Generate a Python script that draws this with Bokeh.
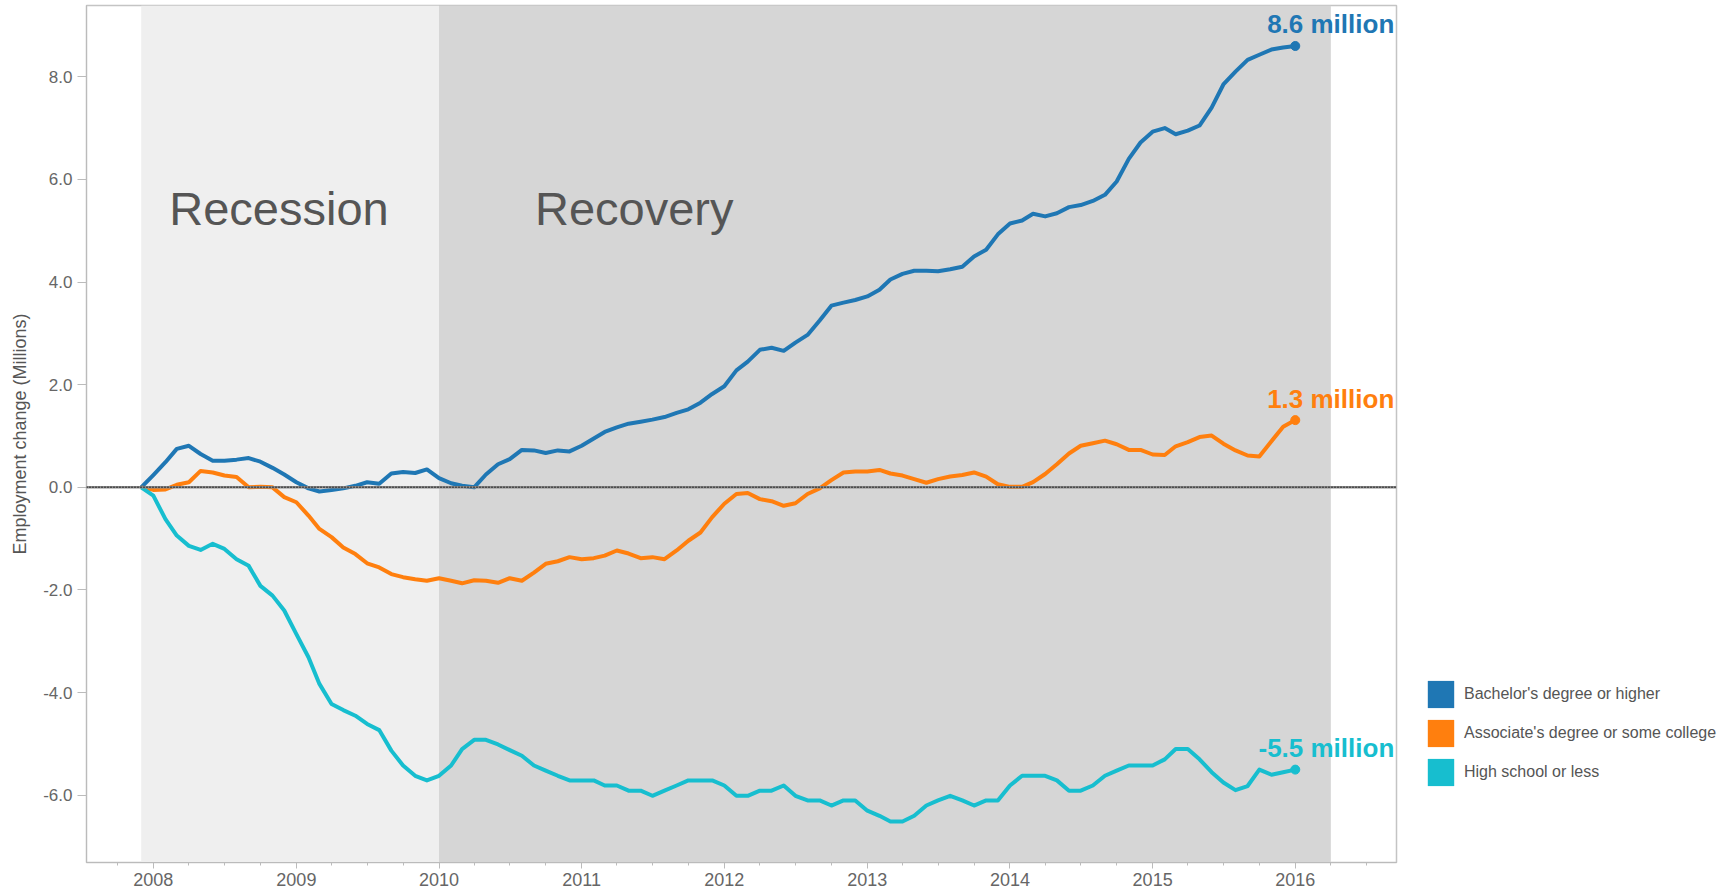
import pandas as pd
from bokeh.plotting import figure
from bokeh.layouts import row
from bokeh.models import (Range1d, FixedTicker, DatetimeTickFormatter, NumeralTickFormatter,
                          BoxAnnotation, Span, Legend, LegendItem, ColumnDataSource)
from bokeh.core.properties import value
from bokeh.embed import file_html
from bokeh.resources import INLINE

# ---------------- data ----------------
months = pd.date_range("2007-12-01", "2016-01-01", freq="MS")

bachelor = [
    0.0,
    0.24, 0.49, 0.75, 0.81, 0.65, 0.52, 0.52, 0.54, 0.57, 0.50, 0.38, 0.25,
    0.10, -0.02, -0.08, -0.05, -0.02, 0.03, 0.10, 0.07, 0.27, 0.30, 0.28, 0.35,
    0.18, 0.08, 0.03, 0.00, 0.25, 0.45, 0.55, 0.73, 0.72, 0.67, 0.72, 0.70,
    0.81, 0.95, 1.08, 1.17, 1.24, 1.28, 1.32, 1.37, 1.45, 1.52, 1.65, 1.82,
    1.97, 2.28, 2.45, 2.68, 2.72, 2.66, 2.82, 2.97, 3.25, 3.54, 3.60, 3.65,
    3.72, 3.85, 4.05, 4.16, 4.22, 4.22, 4.21, 4.25, 4.30, 4.50, 4.63, 4.93,
    5.14, 5.20, 5.33, 5.28, 5.34, 5.46, 5.50, 5.58, 5.70, 5.96, 6.40, 6.72,
    6.93, 7.00, 6.88, 6.95, 7.05, 7.40, 7.85, 8.10, 8.33, 8.43, 8.53, 8.57,
    8.60,
]
associate = [
    0.0,
    -0.05, -0.04, 0.05, 0.10, 0.32, 0.29, 0.23, 0.20, 0.00, 0.01, 0.00, -0.19,
    -0.29, -0.55, -0.81, -0.97, -1.17, -1.30, -1.48, -1.56, -1.69, -1.75, -1.79, -1.82,
    -1.77, -1.82, -1.87, -1.81, -1.82, -1.86, -1.77, -1.82, -1.66, -1.49, -1.44, -1.36,
    -1.40, -1.38, -1.33, -1.23, -1.29, -1.38, -1.36, -1.40, -1.23, -1.04, -0.88, -0.58,
    -0.32, -0.13, -0.11, -0.23, -0.27, -0.36, -0.31, -0.13, -0.02, 0.14, 0.29, 0.31,
    0.31, 0.34, 0.27, 0.23, 0.16, 0.09, 0.16, 0.21, 0.24, 0.29, 0.21, 0.06,
    0.01, 0.01, 0.10, 0.26, 0.45, 0.66, 0.81, 0.86, 0.91, 0.84, 0.73, 0.73,
    0.64, 0.63, 0.80, 0.88, 0.98, 1.01, 0.85, 0.72, 0.62, 0.60, 0.90, 1.18,
    1.31,
]
high_school = [
    0.0,
    -0.16, -0.62, -0.94, -1.14, -1.22, -1.10, -1.20, -1.40, -1.53, -1.92, -2.11, -2.40,
    -2.86, -3.31, -3.83, -4.22, -4.34, -4.45, -4.61, -4.73, -5.13, -5.42, -5.62, -5.71,
    -5.62, -5.42, -5.10, -4.92, -4.92, -5.01, -5.12, -5.23, -5.42, -5.52, -5.62, -5.71,
    -5.71, -5.71, -5.81, -5.81, -5.91, -5.91, -6.01, -5.91, -5.81, -5.71, -5.71, -5.71,
    -5.81, -6.01, -6.01, -5.91, -5.91, -5.81, -6.01, -6.10, -6.10, -6.20, -6.10, -6.10,
    -6.30, -6.40, -6.51, -6.51, -6.40, -6.20, -6.10, -6.01, -6.10, -6.20, -6.10, -6.10,
    -5.81, -5.62, -5.62, -5.62, -5.71, -5.91, -5.91, -5.81, -5.62, -5.52, -5.42, -5.42,
    -5.42, -5.30, -5.10, -5.10, -5.30, -5.55, -5.75, -5.90, -5.82, -5.50, -5.60, -5.55,
    -5.50,
]

series_names = ["Bachelor's degree or higher", "Associate's degree or some college", "High school or less"]
series_colors = ["#1f77b4", "#ff7f0e", "#17becf"]
end_labels = ["8.6 million", "1.3 million", "-5.5 million"]
tick_years = list(range(2008, 2017))
y_ticks = [-6, -4, -2, 0, 2, 4, 6, 8]
phase_names = ["Recession", "Recovery"]
phase_starts = ["2007-12-01", "2010-01-01"]
phase_ends = ["2010-01-01", "2016-04-01"]

FONT = "Liberation Sans"

# ---------------- main figure ----------------
p = figure(width=1398, height=892, x_axis_type="datetime", title=None,
           output_backend="svg", toolbar_location=None,
           x_range=Range1d(pd.Timestamp("2007-07-14"), pd.Timestamp("2016-09-16")),
           y_range=Range1d(-7.31, 9.389),
           min_border_left=86, min_border_right=2, min_border_top=5, min_border_bottom=30)
p.xgrid.visible = False
p.ygrid.visible = False
p.outline_line_color = "#c4c4c4"
p.outline_line_width = 1.5
p.background_fill_color = "white"
p.border_fill_color = "white"

# shaded phases
phase_fills = ["#efefef", "#d6d6d6"]
for s, e, c in zip(phase_starts, phase_ends, phase_fills):
    p.add_layout(BoxAnnotation(left=pd.Timestamp(s), right=pd.Timestamp(e), fill_color=c,
                               fill_alpha=1.0, line_alpha=0, level="underlay"))

phase_src = ColumnDataSource(dict(x=[pd.Timestamp(s) for s in phase_starts], y=[5.115, 5.115],
                                  text=phase_names, xo=[28, 96]))
p.text("x", "y", text="text", source=phase_src, x_offset="xo", y_offset=-16.5,
       text_font=value(FONT), text_font_size="47px", text_color="#555555",
       text_baseline="alphabetic", text_align="left")

# series lines
for vals, color in zip([bachelor, associate, high_school], series_colors):
    p.line(months, vals, line_color=color, line_width=4, line_join="round")

# zero line
p.add_layout(Span(location=0, dimension="width", line_color="#8a8a8a", line_width=2.5))
p.add_layout(Span(location=0, dimension="width", line_color="#111111", line_width=1.5, line_dash="1 2"))

# end points and labels
end_src = ColumnDataSource(dict(x=[months[-1]] * 3,
                                y=[bachelor[-1], associate[-1], high_school[-1]],
                                text=end_labels, color=series_colors))
p.scatter("x", "y", source=end_src, size=9, color="color")
p.text("x", "y", text="text", source=end_src, text_color="color", text_font=value(FONT),
       text_font_style="bold", text_font_size="26px", text_align="right",
       text_baseline="alphabetic", x_offset=99, y_offset=-21.5)

# axes
p.xaxis.ticker = FixedTicker(
    ticks=[pd.Timestamp(f"{y}-01-01").value / 1e6 for y in tick_years],
    minor_ticks=[d.value / 1e6 for d in pd.date_range("2007-07-01", "2016-07-01", freq="QS")])
p.xaxis.formatter = DatetimeTickFormatter(years="%Y", months="%Y", days="%Y", hours="%Y",
                                          minutes="%Y", seconds="%Y", milliseconds="%Y")
p.xaxis.major_tick_out = 6
p.xaxis.major_tick_in = 0
p.xaxis.minor_tick_out = 3
p.xaxis.minor_tick_in = 0
p.xaxis.major_label_standoff = 4

p.yaxis.ticker = FixedTicker(ticks=y_ticks)
p.yaxis.formatter = NumeralTickFormatter(format="0.0")
p.yaxis.major_tick_out = 9
p.yaxis.major_tick_in = 0
p.yaxis.major_label_standoff = 5
p.yaxis.axis_label = "Employment change (Millions)"
p.yaxis.axis_label_standoff = 10
p.yaxis.axis_label_text_font = FONT
p.yaxis.axis_label_text_font_size = "18px"
p.yaxis.axis_label_text_font_style = "normal"
p.yaxis.axis_label_text_color = "#555555"

for ax in (p.xaxis, p.yaxis):
    ax.axis_line_color = "#bbbbbb"
    ax.major_tick_line_color = "#bbbbbb"
    ax.major_label_text_font = FONT
    ax.major_label_text_color = "#666666"
p.xaxis.minor_tick_line_color = "#bbbbbb"
p.yaxis.minor_tick_line_color = None
p.xaxis.major_label_text_font_size = "18px"
p.yaxis.major_label_text_font_size = "17px"

# ---------------- legend panel ----------------
leg = figure(width=329, height=892, title=None, output_backend="svg", toolbar_location=None,
             x_range=Range1d(0, 1), y_range=Range1d(0, 1),
             x_axis_location=None, y_axis_location=None, min_border=0)
leg.grid.visible = False
leg.outline_line_color = None
leg.background_fill_color = "white"
leg.border_fill_color = "white"

nan = float("nan")
items = []
for name, color in zip(series_names, series_colors):
    r = leg.quad(left=[nan], right=[nan], top=[nan], bottom=[nan], fill_color=color, line_color=None)
    items.append(LegendItem(label=name, renderers=[r]))
legend = Legend(items=items, location=(26, 73), orientation="vertical",
                glyph_width=33, glyph_height=34, spacing=5, padding=0, margin=0,
                label_standoff=7, label_text_font=FONT, label_text_font_size="16px",
                label_text_color="#555555", border_line_alpha=0, background_fill_alpha=0)
leg.add_layout(legend)

layout = row(p, leg, spacing=0)
open("out.html", "w").write(file_html(layout, INLINE))
